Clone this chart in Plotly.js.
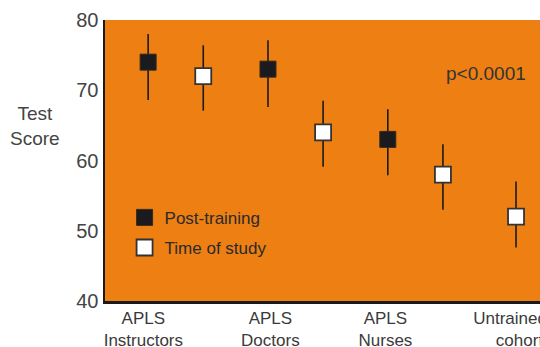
<!DOCTYPE html>
<html>
<head>
<meta charset="utf-8">
<script src="https://cdn.plot.ly/plotly-3.0.1.min.js"></script>
<style>html,body{margin:0;padding:0;background:#fff;}#chart{width:540px;height:347px;}</style>
</head>
<body>
<div id="chart"></div>
<script>
// Data
const groups = ["APLS<br>Instructors", "APLS<br>Doctors", "APLS<br>Nurses", "Untrained<br>\u00a0\u00a0\u00a0\u00a0cohort"];
const postScore = [74, 73, 63, null];
const postLow   = [68.6, 67.6, 57.9, null];
const postHigh  = [78.0, 77.1, 67.3, null];
const studyScore = [72, 64, 58, 52];
const studyLow   = [67.1, 59.1, 53.0, 47.6];
const studyHigh  = [76.4, 68.5, 62.3, 57.0];
const yTicks = [40, 50, 60, 70, 80];

// positions along the category axis
const xPost = [], yPost = [], ePostUp = [], ePostDn = [];
const xStudy = [], yStudy = [], eStudyUp = [], eStudyDn = [];
groups.forEach((g, i) => {
  if (postScore[i] !== null) {
    xPost.push(i); yPost.push(postScore[i]);
    ePostUp.push(postHigh[i] - postScore[i]); ePostDn.push(postScore[i] - postLow[i]);
    xStudy.push(i + 0.46);
  } else {
    xStudy.push(i + 0.07);
  }
  yStudy.push(studyScore[i]);
  eStudyUp.push(studyHigh[i] - studyScore[i]); eStudyDn.push(studyScore[i] - studyLow[i]);
});

const txt = '#3a3a3a';
const font = {family: '"Liberation Sans", Arial, sans-serif', color: txt};

const traces = [
  {
    type: 'scatter', mode: 'markers', name: 'Post-training', legendgroup: 'a',
    x: xPost, y: yPost,
    error_y: {type: 'data', symmetric: false, array: ePostUp, arrayminus: ePostDn, width: 0, thickness: 1.6, color: '#1a1a1a'},
    marker: {symbol: 'square', size: 16, color: '#1b1a1f', line: {color: '#3a2a1a', width: 1}},
    cliponaxis: false
  },
  {
    type: 'scatter', mode: 'markers', name: 'Time of study', legendgroup: 'b',
    x: xStudy, y: yStudy,
    error_y: {type: 'data', symmetric: false, array: eStudyUp, arrayminus: eStudyDn, width: 0, thickness: 1.6, color: '#1a1a1a'},
    marker: {symbol: 'square', size: 16, color: '#ffffff', line: {color: '#333333', width: 1.8}},
    cliponaxis: false
  }
];

const layout = {
  width: 540, height: 347,
  margin: {l: 105, r: 0, t: 20, b: 46},
  paper_bgcolor: '#ffffff',
  plot_bgcolor: '#ED7F13',
  font: Object.assign({}, font, {size: 17}),
  showlegend: true,
  legend: {
    x: 0.045, y: 0.36, xanchor: 'left', yanchor: 'top',
    bgcolor: 'rgba(0,0,0,0)', borderwidth: 0,
    traceorder: 'grouped', tracegroupgap: 5,
    font: Object.assign({}, font, {size: 17, color: '#2a2a2a'}),
    itemclick: false
  },
  xaxis: {
    range: [-0.36, 3.27],
    tickmode: 'array', tickvals: [-0.04, 1.02, 1.98, 3.02], ticktext: groups,
    ticklabeloverflow: 'allow',
    showgrid: false, zeroline: false,
    showline: true, linecolor: '#1a1a1a', linewidth: 2.5,
    ticks: '', tickfont: Object.assign({}, font, {size: 17})
  },
  yaxis: {
    range: [40, 80],
    tickmode: 'array', tickvals: yTicks,
    showgrid: false, zeroline: false,
    showline: true, linecolor: '#1a1a1a', linewidth: 2.5,
    ticks: '', ticklen: 0, tickfont: Object.assign({}, font, {size: 20, color: '#444'})
  },
  annotations: [
    {xref: 'paper', yref: 'paper', x: -0.161, y: 0.623, xanchor: 'center', yanchor: 'middle',
     text: 'Test<br>Score', showarrow: false, align: 'center',
     font: Object.assign({}, font, {size: 19, color: '#444'})},
    {xref: 'paper', yref: 'paper', x: 0.972, y: 0.811, xanchor: 'right', yanchor: 'middle',
     text: 'p<0.0001', showarrow: false,
     font: Object.assign({}, font, {size: 19, color: '#333'})}
  ]
};

Plotly.newPlot('chart', traces, layout, {displayModeBar: false, staticPlot: true});
</script>
</body>
</html>
